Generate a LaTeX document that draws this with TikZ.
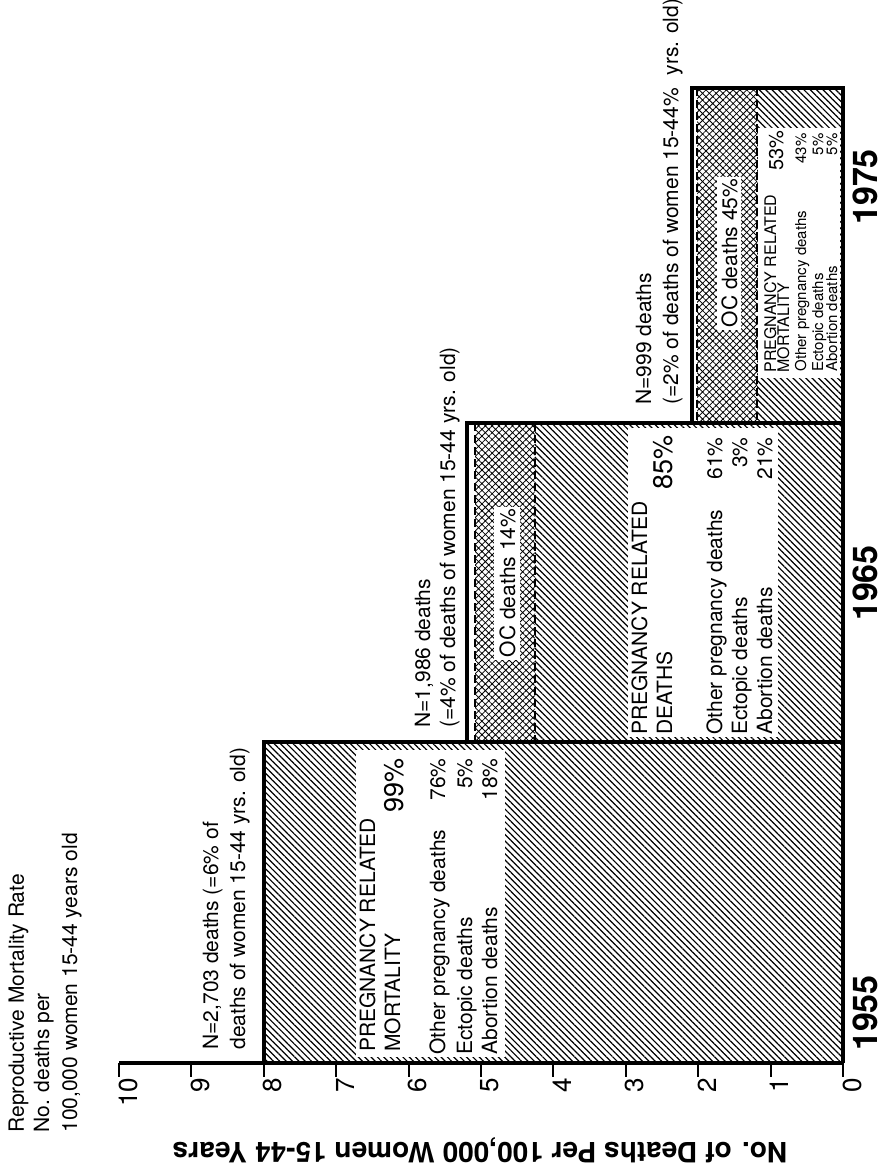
\documentclass[tikz,border=0pt]{standalone}
\usepackage{fontspec}
\setmainfont{TeX Gyre Heros}
\usetikzlibrary{patterns.meta}

\begin{document}
\begin{tikzpicture}[x=0.5pt,y=-0.5pt,
    lbl/.style={rotate=90,inner sep=0pt,font=\fontsize{10.5}{12}\selectfont},
    smalllbl/.style={lbl,font=\fontsize{7.5}{9}\selectfont},
    midlbl/.style={lbl,font=\fontsize{8}{9}\selectfont},
    pct/.style={lbl,font=\fontsize{13.5}{15}\selectfont},
    year/.style={lbl,font=\fontsize{17}{20}\selectfont\bfseries},
    ticklbl/.style={lbl,font=\fontsize{13}{15}\selectfont},
    barline/.style={line width=2pt},
    prhatch/.style={pattern={Lines[angle=-45,distance=2.25pt,line width=0.6pt]}},
    ochatch/.style={pattern={Hatch[angle=45,distance=2.4pt,line width=0.4pt]}},
    ocline/.style={line width=0.9pt,dash pattern=on 4pt off 2pt},
    clearbox/.style={fill=white}]
    \useasboundingbox (0,0) rectangle (883,1176);

    % hatched areas of the bars
    \fill[prhatch](264,742) rectangle (843,1063);
    \fill[prhatch](535,423) rectangle (843,742);
    \fill[ochatch](475,423) rectangle (535,742);
    \fill[prhatch](757,88) rectangle (843,423);
    \fill[ochatch](697,88) rectangle (757,423);

    % white blocks under the texts
    \fill[clearbox](356,750) rectangle (505,1057);
    \fill[clearbox](628,428) rectangle (778,737);
    \fill[clearbox](494,507) rectangle (520,660);
    \fill[clearbox](758,128) rectangle (840,378);
    \fill[clearbox](717,177) rectangle (741,330);

    \draw[ocline](475,423)--(475,742);
    \draw[ocline](535,423)--(535,742);
    \draw[ocline](697,88)--(697,423);
    \draw[ocline](757,88)--(757,423);

    % bar outlines
    \draw[barline](264,1063)--(264,742)--(467,742)--(467,423)--(692,423)--(692,88)--(843,88)--(843,1063);
    \draw[barline](467,742)--(843,742);
    \draw[barline](692,423)--(843,423);

    % value axis
    \draw[barline](119,1063)--(843,1063);
    \foreach \v in {0,...,10}
        \draw[line width=1pt]({843-72.4*\v},1063)--++(0,14)
            node[ticklbl,anchor=east,yshift=-4.5pt](t\v){\v};
    \node[rotate=180,inner sep=0pt,font=\fontsize{14}{16}\selectfont\bfseries](ytitle)at(480,1150)
        {No. of Deaths Per 100,000 Women 15-44 Years};

    \node[lbl,anchor=base west](keyA)at(24,1133){Reproductive Mortality Rate};
    \node[lbl,anchor=base west](keyB)at(49,1133){No. deaths per};
    \node[lbl,anchor=base west](keyC)at(77,1133){100,000 women 15-44 years old};

    % 1955
    \node[lbl,anchor=base west](nA)at(218,1050){N=2,703 deaths (=6\% of};
    \node[lbl,anchor=base west](nAb)at(245,1050){deaths of women 15-44 yrs. old)};
    \node[lbl,anchor=base west](prA)at(375,1052){PREGNANCY RELATED};
    \node[lbl,anchor=base west](prAb)at(400,1052){MORTALITY};
    \node[pct,anchor=base east](pA)at(403,758){99\%};
    \node[lbl,anchor=base west](oA)at(445,1055){Other pregnancy deaths};
    \node[lbl,anchor=base east](oAp)at(445,758){76\%};
    \node[lbl,anchor=base west](eA)at(472,1055){Ectopic deaths};
    \node[lbl,anchor=base east](eAp)at(472,758){5\%};
    \node[lbl,anchor=base west](aA)at(497,1055){Abortion deaths};
    \node[lbl,anchor=base east](aAp)at(497,758){18\%};
    \node[year,anchor=base](yA)at(877,1013){1955};

    % 1965
    \node[lbl,anchor=base west](nB)at(430,728){N=1,986 deaths};
    \node[lbl,anchor=base west](nBb)at(455,728){(=4\% of deaths of women 15-44 yrs. old)};
    \node[lbl,anchor=base](ocB)at(515,583){OC deaths 14\%};
    \node[lbl,anchor=base west](prB)at(647,735){PREGNANCY RELATED};
    \node[lbl,anchor=base west](prBb)at(672,735){DEATHS};
    \node[pct,anchor=base east](pB)at(672,435){85\%};
    \node[lbl,anchor=base west](oB)at(722,735){Other pregnancy deaths};
    \node[lbl,anchor=base east](oBp)at(722,437){61\%};
    \node[lbl,anchor=base west](eB)at(747,735){Ectopic deaths};
    \node[lbl,anchor=base east](eBp)at(747,437){3\%};
    \node[lbl,anchor=base west](aB)at(772,735){Abortion deaths};
    \node[lbl,anchor=base east](aBp)at(772,437){21\%};
    \node[year,anchor=base](yB)at(877,583){1965};

    % 1975
    \node[lbl,anchor=base west](nC)at(651,405){N=999 deaths};
    \node[lbl,anchor=base west](nCb)at(678,405){(=2\% of deaths of women 15-44\%\hspace{0.6em}yrs. old)};
    \node[lbl,anchor=base](ocC)at(737,253){OC deaths 45\%};
    \node[midlbl,anchor=base west](prC)at(776,373){PREGNANCY RELATED};
    \node[midlbl,anchor=base west](prCb)at(789,373){MORTALITY};
    \node[lbl,font=\fontsize{10}{12}\selectfont,anchor=base east](pC)at(783,130){53\%};
    \node[smalllbl,anchor=base west](oC)at(806,372){Other pregnancy deaths};
    \node[smalllbl,anchor=base east](oCp)at(806,133){43\%};
    \node[smalllbl,anchor=base west](eC)at(823,372){Ectopic deaths};
    \node[smalllbl,anchor=base east](eCp)at(823,133){5\%};
    \node[smalllbl,anchor=base west](aC)at(837,372){Abortion deaths};
    \node[smalllbl,anchor=base east](aCp)at(837,133){5\%};
    \node[year,anchor=base](yC)at(877,187){1975};
\end{tikzpicture}
\end{document}
